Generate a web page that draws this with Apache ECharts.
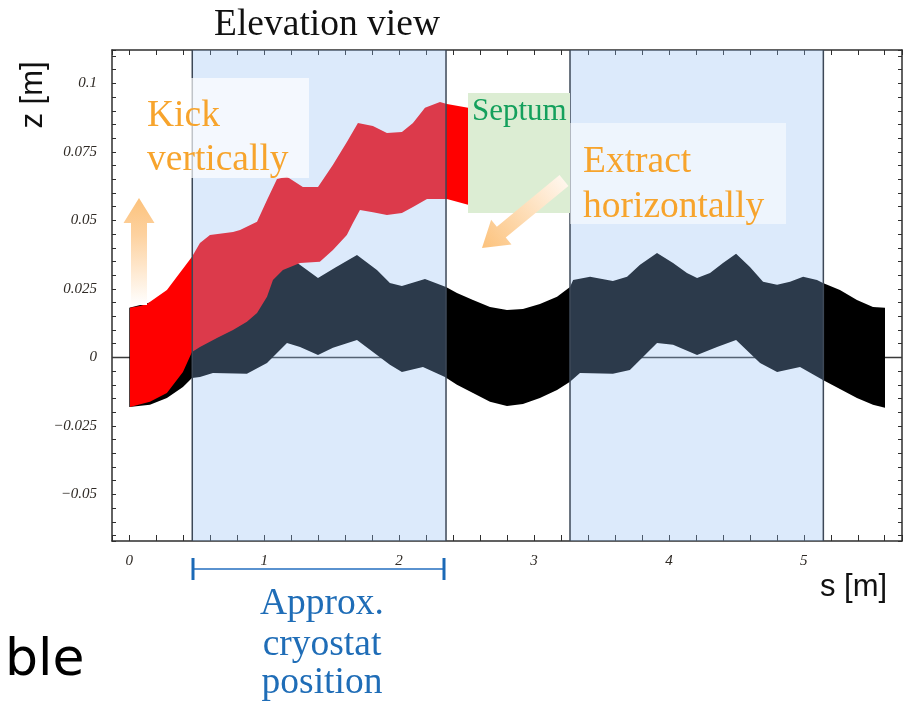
<!DOCTYPE html>
<html>
<head>
<meta charset="utf-8">
<script src="https://cdn.jsdelivr.net/npm/echarts@6/dist/echarts.min.js"></script>
<style>
html,body{margin:0;padding:0;background:#fff;}
#chart{width:910px;height:702px;}
</style>
</head>
<body>
<div id="chart"></div>
<script>
// ---- data (s [m], z [m]) ----
const blackUpper = [[0,0.0181],[0.228,0.0210],[0.465,0.0257],[0.546,0.0286],[0.761,0.0283],[0.880,0.0294],[1.043,0.0330],[1.206,0.0359],[1.399,0.0290],[1.525,0.0327],[1.688,0.0374],[1.836,0.0319],[1.932,0.0272],[2.021,0.0261],[2.192,0.0286],[2.348,0.0257],[2.429,0.0235],[2.548,0.0210],[2.674,0.0184],[2.800,0.0173],[2.918,0.0177],[3.044,0.0195],[3.171,0.0221],[3.267,0.0257],[3.290,0.0283],[3.416,0.0294],[3.585,0.0279],[3.690,0.0294],[3.786,0.0338],[3.912,0.0381],[4.031,0.0345],[4.134,0.0308],[4.209,0.0290],[4.305,0.0308],[4.401,0.0345],[4.498,0.0378],[4.601,0.0330],[4.698,0.0276],[4.802,0.0265],[4.898,0.0276],[4.995,0.0294],[5.098,0.0283],[5.142,0.0272],[5.268,0.0246],[5.394,0.0210],[5.513,0.0184],[5.602,0.0181]];
const blackLower = [[0,-0.0181],[0.153,-0.0173],[0.279,-0.0148],[0.398,-0.0108],[0.465,-0.0075],[0.524,-0.0071],[0.620,-0.0057],[0.872,-0.0060],[1.021,-0.0020],[1.095,0.0016],[1.169,0.0053],[1.266,0.0038],[1.399,0.0009],[1.510,0.0035],[1.688,0.0064],[1.836,0.0009],[1.932,-0.0027],[2.021,-0.0053],[2.177,-0.0035],[2.340,-0.0071],[2.429,-0.0100],[2.548,-0.0130],[2.674,-0.0162],[2.800,-0.0177],[2.918,-0.0170],[3.044,-0.0148],[3.171,-0.0119],[3.267,-0.0089],[3.341,-0.0057],[3.585,-0.0060],[3.711,-0.0046],[3.808,0.0002],[3.912,0.0053],[4.031,0.0046],[4.209,0.0009],[4.357,0.0038],[4.498,0.0064],[4.676,-0.0020],[4.802,-0.0053],[4.972,-0.0035],[5.142,-0.0082],[5.268,-0.0115],[5.394,-0.0148],[5.513,-0.0173],[5.602,-0.0184]];
const redUpper = [[0.005,0.0181],[0.079,0.0188],[0.131,0.0195],[0.279,0.0246],[0.465,0.0367],[0.524,0.0418],[0.598,0.0447],[0.769,0.0458],[0.821,0.0465],[0.947,0.0495],[1.021,0.0575],[1.095,0.0651],[1.169,0.0659],[1.287,0.0622],[1.399,0.0622],[1.510,0.0703],[1.613,0.0786],[1.695,0.0856],[1.806,0.0845],[1.910,0.0819],[2.021,0.0823],[2.103,0.0856],[2.192,0.0911],[2.303,0.0932],[2.355,0.0925],[2.511,0.0911]];
const redLower = [[0.005,-0.0181],[0.153,-0.0162],[0.279,-0.0130],[0.398,-0.0053],[0.465,0.0020],[0.524,0.0038],[0.650,0.0071],[0.769,0.0100],[0.872,0.0130],[0.947,0.0162],[1.021,0.0221],[1.065,0.0283],[1.139,0.0319],[1.266,0.0345],[1.413,0.0349],[1.510,0.0392],[1.613,0.0447],[1.658,0.0491],[1.710,0.0538],[1.806,0.0530],[1.910,0.0520],[2.021,0.0527],[2.103,0.0549],[2.207,0.0578],[2.325,0.0578],[2.355,0.0578],[2.511,0.0557]];
const cryostatStart = [0.467, 3.267];
const cryostatEnd = [2.348, 5.145];
const zeroLevel = [0];
const sRange = [-0.128, 5.728];
const zRange = [-0.0670, 0.1122];
const xTickStep = 1;
const yTickStep = 0.025;

// ---- chart ----
const chart = echarts.init(document.getElementById('chart'), null, {renderer: 'canvas'});
const frameColor = '#2e2e2e';
const tickFont = {fontFamily: 'Liberation Serif', fontStyle: 'italic', fontSize: 15, color: '#2f2a25'};

function bandSeries(name, upper, lower, fill, z) {
  return {
    type: 'custom', name: name, z: z, silent: true,
    coordinateSystem: 'cartesian2d', xAxisIndex: 0, yAxisIndex: 0,
    data: [[upper[0][0], upper[0][1]]],
    renderItem: function (params, api) {
      const pts = upper.map(p => api.coord(p))
        .concat(lower.slice().reverse().map(p => api.coord(p)));
      return {type: 'polygon', shape: {points: pts}, style: {fill: fill}};
    }
  };
}

function fmtY(v) {
  if (Math.abs(v) < 1e-9) return '0';
  const a = parseFloat(Math.abs(v).toFixed(4)).toString();
  return (v < 0 ? '\u2212' : '') + a;
}

const baseX = {
  type: 'value', min: sRange[0], max: sRange[1],
  minInterval: xTickStep, maxInterval: xTickStep,
  splitLine: {show: false},
  axisLine: {show: true, onZero: false, lineStyle: {color: frameColor, width: 1.5}},
  axisTick: {show: true, inside: true, length: 6, lineStyle: {color: frameColor, width: 1}},
  minorTick: {show: true, splitNumber: 5, length: 6, lineStyle: {color: frameColor, width: 1}}
};
const baseY = {
  type: 'value', min: zRange[0], max: zRange[1],
  minInterval: yTickStep, maxInterval: yTickStep,
  splitLine: {show: false},
  axisLine: {show: true, onZero: false, lineStyle: {color: frameColor, width: 1.5}},
  axisTick: {show: true, inside: true, length: 4, lineStyle: {color: frameColor, width: 1}},
  minorTick: {show: true, splitNumber: 5, length: 4, lineStyle: {color: frameColor, width: 1}}
};

// arrow geometry helpers (annotation only)
function arrowPoints(tail, tip, shaftHalf, headHalf, headLen) {
  const dx = tip[0] - tail[0], dy = tip[1] - tail[1];
  const L = Math.hypot(dx, dy);
  const ux = dx / L, uy = dy / L, nx = -uy, ny = ux;
  const bx = tip[0] - ux * headLen, by = tip[1] - uy * headLen;
  return [
    tip,
    [bx + nx * headHalf, by + ny * headHalf],
    [bx + nx * shaftHalf, by + ny * shaftHalf],
    [tail[0] + nx * shaftHalf, tail[1] + ny * shaftHalf],
    [tail[0] - nx * shaftHalf, tail[1] - ny * shaftHalf],
    [bx - nx * shaftHalf, by - ny * shaftHalf],
    [bx - nx * headHalf, by - ny * headHalf]
  ];
}
const upTail = [139, 305], upTip = [139, 198];
const diagTail = [564, 180.5], diagTip = [482, 248];

const orange = '#f7a42c';
const bigSerif = '37.5px "Liberation Serif"';

const option = {
  animation: false,
  grid: {left: 112, right: 8, top: 50, bottom: 161, containLabel: false},
  xAxis: [
    Object.assign({}, baseX, {position: 'bottom',
      axisLabel: Object.assign({show: true, margin: 13, showMinLabel: false, showMaxLabel: false,
        formatter: v => String(Math.round(v))}, tickFont)}),
    Object.assign({}, baseX, {position: 'top', axisLabel: {show: false},
      axisTick: Object.assign({}, baseX.axisTick, {length: 5}),
      minorTick: Object.assign({}, baseX.minorTick, {length: 5})})
  ],
  yAxis: [
    Object.assign({}, baseY, {position: 'left',
      axisLabel: Object.assign({show: true, margin: 15, showMinLabel: false, showMaxLabel: false,
        formatter: fmtY}, tickFont)}),
    Object.assign({}, baseY, {position: 'right', axisLabel: {show: false}})
  ],
  series: [
    {
      type: 'custom', name: 'zero', z: 1, silent: true,
      coordinateSystem: 'cartesian2d',
      data: zeroLevel.map(v => [0, v]),
      renderItem: function (params, api) {
        const cs = params.coordSys;
        const y = api.coord([0, api.value(1)])[1];
        return {type: 'line', shape: {x1: cs.x, y1: y, x2: cs.x + cs.width, y2: y},
          style: {stroke: '#3a3a3a', lineWidth: 1.5}};
      }
    },
    bandSeries('black', blackUpper, blackLower, '#000000', 2),
    bandSeries('red', redUpper, redLower, '#ff0000', 3),
    {
      type: 'custom', name: 'cryostat', z: 4, silent: true,
      coordinateSystem: 'cartesian2d',
      encode: {x: [0, 1]},
      data: cryostatStart.map((s, i) => [s, cryostatEnd[i]]),
      renderItem: function (params, api) {
        const cs = params.coordSys;
        const a = api.coord([api.value(0), 0])[0];
        const b = api.coord([api.value(1), 0])[0];
        return {type: 'group', children: [
          {type: 'rect', shape: {x: a, y: cs.y, width: b - a, height: cs.height},
            style: {fill: 'rgba(143,187,242,0.31)'}},
          {type: 'line', shape: {x1: a, y1: cs.y, x2: a, y2: cs.y + cs.height},
            style: {stroke: '#3d4857', lineWidth: 1.5}},
          {type: 'line', shape: {x1: b, y1: cs.y, x2: b, y2: cs.y + cs.height},
            style: {stroke: '#3d4857', lineWidth: 1.5}}
        ]};
      }
    }
  ],
  graphic: [
    {type: 'rect', z: 20, shape: {x: 135, y: 78, width: 174, height: 100}, style: {fill: 'rgba(255,255,255,0.68)'}},
    {type: 'rect', z: 20, shape: {x: 570, y: 123, width: 216, height: 101}, style: {fill: 'rgba(255,255,255,0.5)'}},
    {type: 'rect', z: 20, shape: {x: 468, y: 93, width: 102, height: 120}, style: {fill: '#dcedd3'}},
    {type: 'polygon', z: 21, shape: {points: arrowPoints(upTail, upTip, 8, 15.5, 25)},
      style: {fill: new echarts.graphic.LinearGradient(0, 0, 0, 1, [
        {offset: 0, color: '#fcc27c'}, {offset: 0.35, color: '#fdd2a0'}, {offset: 1, color: '#ffffff'}])}},
    {type: 'polygon', z: 21, shape: {points: arrowPoints(diagTail, diagTip, 7, 16, 25)},
      style: {fill: new echarts.graphic.LinearGradient(diagTail[0], diagTail[1], diagTip[0], diagTip[1], [
        {offset: 0, color: '#fff6ec'}, {offset: 1, color: '#fcc27c'}], true)}},
    {type: 'text', z: 22, style: {text: 'Elevation view', x: 327, y: 25.5, align: 'center', verticalAlign: 'middle',
      font: bigSerif, fill: '#111'}},
    {type: 'text', z: 22, style: {text: 'Kick', x: 147, y: 116, verticalAlign: 'middle',
      font: bigSerif, fill: orange}},
    {type: 'text', z: 22, style: {text: 'vertically', x: 147, y: 160, verticalAlign: 'middle',
      font: bigSerif, fill: orange}},
    {type: 'text', z: 22, style: {text: 'Septum', x: 472, y: 112, verticalAlign: 'middle',
      font: '31px "Liberation Serif"', fill: '#14a05c'}},
    {type: 'text', z: 22, style: {text: 'Extract', x: 583, y: 162, verticalAlign: 'middle',
      font: bigSerif, fill: orange}},
    {type: 'text', z: 22, style: {text: 'horizontally', x: 583, y: 207, verticalAlign: 'middle',
      font: bigSerif, fill: orange}},
    {type: 'text', z: 22, rotation: Math.PI / 2, x: 33, y: 95,
      style: {text: 'z [m]', x: 0, y: 0, align: 'center', verticalAlign: 'middle',
      font: '31px "Liberation Sans"', fill: '#111'}},
    {type: 'text', z: 22, style: {text: 's [m]', x: 853.5, y: 587, align: 'center', verticalAlign: 'middle',
      font: '31px "Liberation Sans"', fill: '#111'}},
    {type: 'line', z: 22, shape: {x1: 193, y1: 569, x2: 444, y2: 569}, style: {stroke: '#5a92cf', lineWidth: 2}},
    {type: 'rect', z: 22, shape: {x: 191.5, y: 558, width: 3, height: 22}, style: {fill: '#1b69b6'}},
    {type: 'rect', z: 22, shape: {x: 442.5, y: 558, width: 3, height: 22}, style: {fill: '#1b69b6'}},
    {type: 'text', z: 22, style: {text: 'Approx.', x: 322, y: 604, align: 'center', verticalAlign: 'middle',
      font: bigSerif, fill: '#1f6db7'}},
    {type: 'text', z: 22, style: {text: 'cryostat', x: 322, y: 645, align: 'center', verticalAlign: 'middle',
      font: bigSerif, fill: '#1f6db7'}},
    {type: 'text', z: 22, style: {text: 'position', x: 322, y: 683, align: 'center', verticalAlign: 'middle',
      font: bigSerif, fill: '#1f6db7'}},
    {type: 'text', z: 22, style: {text: 'ble', x: 5, y: 661, verticalAlign: 'middle',
      font: '52px "DejaVu Sans"', fill: '#000'}}
  ]
};
chart.setOption(option);
</script>
</body>
</html>
